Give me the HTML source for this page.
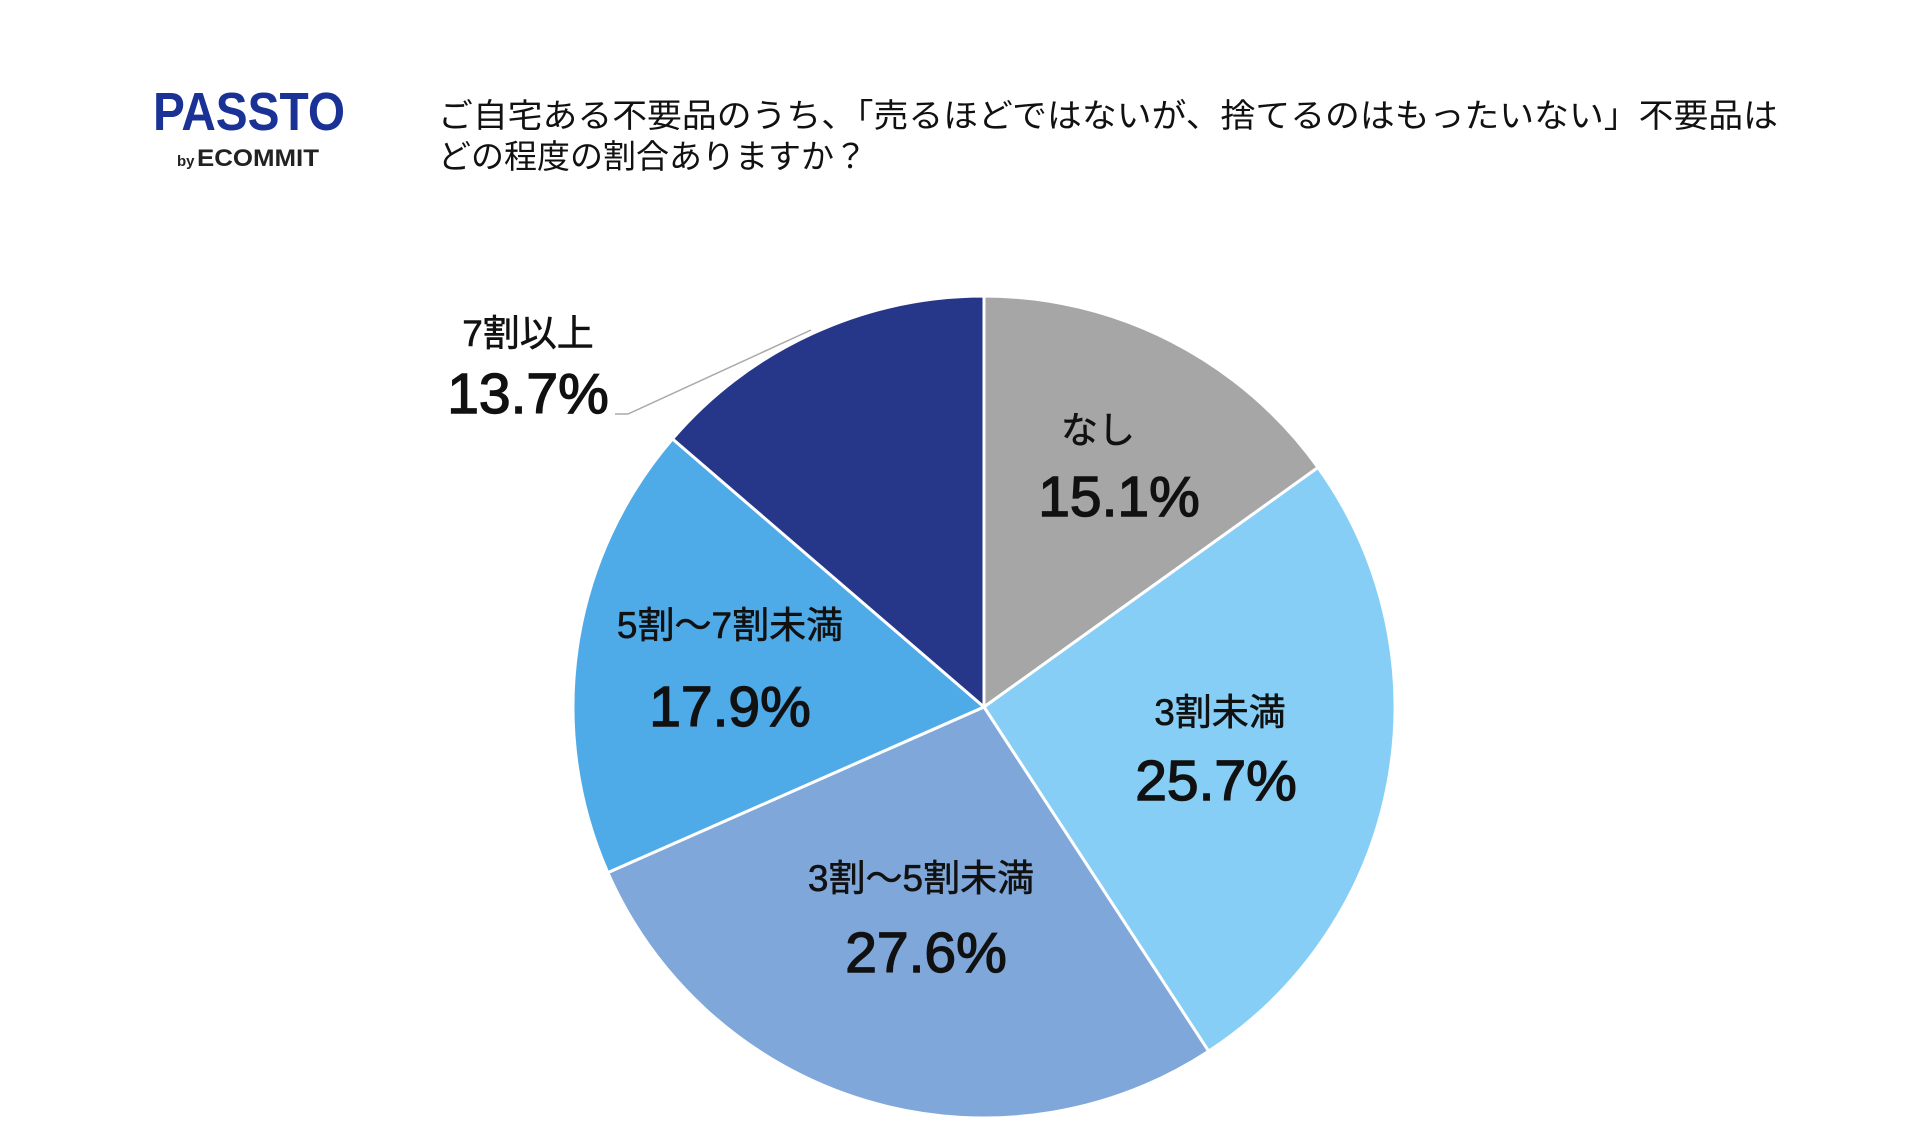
<!DOCTYPE html>
<html><head><meta charset="utf-8"><style>
html,body{margin:0;padding:0;background:#fff;width:1920px;height:1147px;overflow:hidden}
svg text{font-family:"Liberation Sans","Noto Sans CJK JP",sans-serif}
</style></head><body>
<svg width="1920" height="1147" viewBox="0 0 1920 1147" xmlns="http://www.w3.org/2000/svg">
<rect width="1920" height="1147" fill="#fff"/>
<text x="153" y="130" font-size="54" font-weight="bold" fill="#1a3296" textLength="192" lengthAdjust="spacingAndGlyphs">PASSTO</text>
<text x="177" y="166" font-size="15" font-weight="bold" fill="#222">by</text>
<text x="197" y="166" font-size="24" font-weight="bold" fill="#222" textLength="122" lengthAdjust="spacingAndGlyphs">ECOMMIT</text>
<text x="438" y="127" font-size="33" fill="#111" textLength="1340" lengthAdjust="spacingAndGlyphs">ご自宅ある不要品のうち、「売るほどではないが、捨てるのはもったいない」不要品は</text>
<text x="438" y="168" font-size="33" fill="#111">どの程度の割合ありますか？</text>
<g stroke="#fff" stroke-width="3" stroke-linejoin="round">
<path d="M984,707 L984,296 A411,411 0 0 1 1318,467.5 Z" fill="#a6a6a6"/>
<path d="M984,707 L1318,467.5 A411,411 0 0 1 1208.6,1051.2 Z" fill="#86cef5"/>
<path d="M984,707 L1208.6,1051.2 A411,411 0 0 1 607.8,872.6 Z" fill="#7fa7da"/>
<path d="M984,707 L607.8,872.6 A411,411 0 0 1 672.5,438.9 Z" fill="#4faae8"/>
<path d="M984,707 L672.5,438.9 A411,411 0 0 1 984,296 Z" fill="#263789"/>
</g>
<polyline points="615,414 628,414 811,330" fill="none" stroke="#aaa" stroke-width="1.5"/>
<g fill="#111" text-anchor="middle" stroke="#111">
<text x="1098" y="443" font-size="37" stroke-width="0.6">なし</text>
<text x="1119" y="516" font-size="57" stroke-width="1.4">15.1%</text>
<text x="1220" y="725" font-size="37" stroke-width="0.6">3割未満</text>
<text x="1216" y="800" font-size="57" stroke-width="1.4">25.7%</text>
<text x="921" y="891" font-size="37" stroke-width="0.6">3割〜5割未満</text>
<text x="926" y="972" font-size="57" stroke-width="1.4">27.6%</text>
<text x="730" y="638" font-size="37" stroke-width="0.6">5割〜7割未満</text>
<text x="730" y="726" font-size="57" stroke-width="1.4">17.9%</text>
<text x="528" y="346" font-size="37" stroke-width="0.6">7割以上</text>
<text x="528" y="413" font-size="57" stroke-width="1.4">13.7%</text>
</g>
</svg>
</body></html>
